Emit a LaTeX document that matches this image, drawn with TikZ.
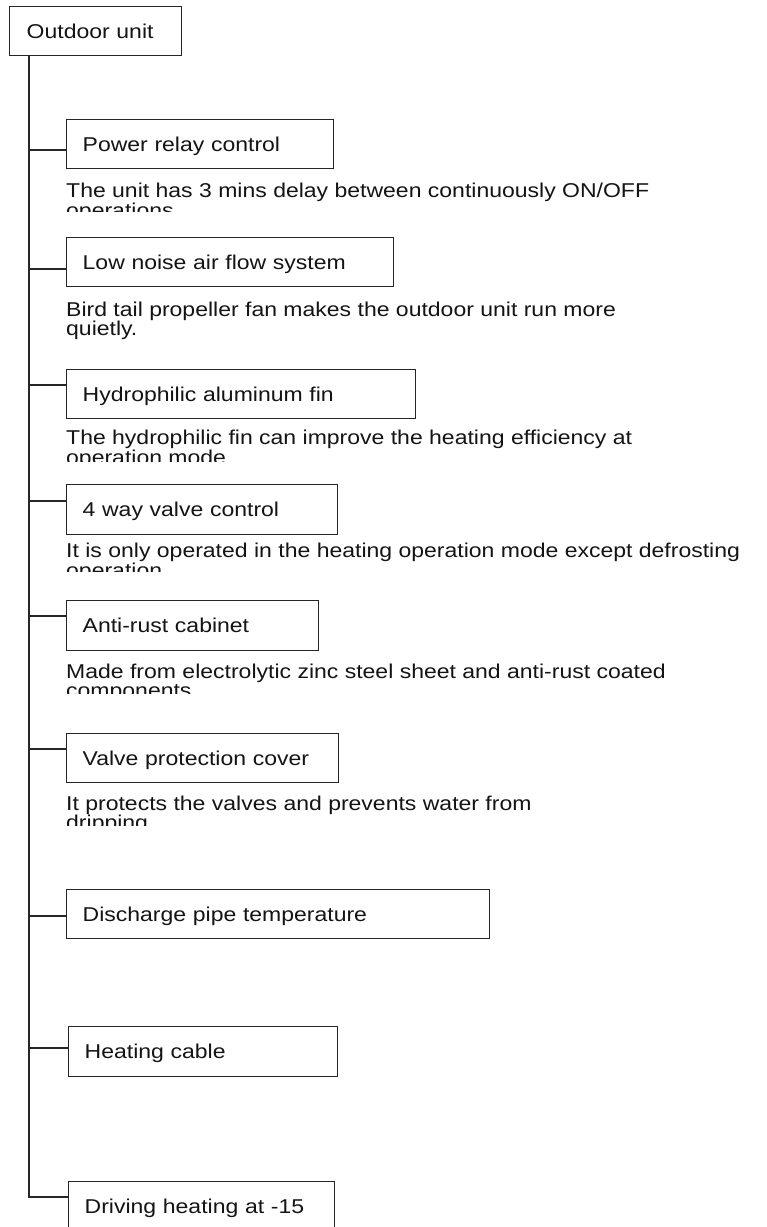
\documentclass[tikz,border=0pt]{standalone}
\usepackage{fontspec}
\setmainfont{Liberation Sans}[FakeStretch=1.15]
\definecolor{linec}{gray}{0.15}
\definecolor{txtc}{gray}{0.08}
\begin{document}
\begin{tikzpicture}[x=1pt,y=-1pt,
  box/.style={draw=linec, line width=1.4pt, rectangle, anchor=north west,
    inner xsep=16pt, inner ysep=0pt, minimum height=49pt,
    text height=14.3pt, text depth=0pt, align=left, text=txtc,
    font=\fontsize{20}{24}\selectfont},
  desc/.style={anchor=base west, inner sep=0pt, align=left, text=txtc,
    font=\fontsize{20}{#1}\selectfont},
  conn/.style={draw=linec, line width=1.3pt}]
\clip (0,0) rectangle (767,1227);
\fill[white] (0,0) rectangle (767,1227);

% root
\node[box, inner xsep=17pt, text width=138pt] (root) at (9,6) {Outdoor unit};

% feature boxes
\node[box, text width=235pt] (p1) at (66,119) {Power relay control};
\node[box, text width=295pt] (p2) at (66,237) {Low noise air flow system};
\node[box, text width=317pt] (p3) at (66,369) {Hydrophilic aluminum fin};
\node[box, text width=239pt, minimum height=50pt] (p4) at (66,484) {4 way valve control};
\node[box, text width=220pt, minimum height=50pt] (p5) at (66,600) {Anti-rust cabinet};
\node[box, text width=240pt] (p6) at (66,733) {Valve protection cover};
\node[box, text width=391pt] (p7) at (66,889) {Discharge pipe temperature};
\node[box, text width=237pt, minimum height=50pt] (p8) at (68,1026) {Heating cable};
\node[box, text width=234pt] (p9) at (68,1181) {Driving heating at -15};

% descriptions (second lines cut off as in the reference; anchor = last baseline)
\begin{scope}
  \clip (55,175) rectangle (767,211);
  \node[desc=20.5pt] (d1) at (66,217.5) {The unit has 3 mins delay between continuously ON/OFF\\operations};
\end{scope}
\node[desc=19pt] (d2) at (66,335) {Bird tail propeller fan makes the outdoor unit run more\\quietly.};
\begin{scope}
  \clip (55,425) rectangle (767,461);
  \node[desc=17pt] (d3) at (66,464) {The hydrophilic fin can improve the heating efficiency at\\operation mode};
\end{scope}
\begin{scope}
  \clip (55,540) rectangle (767,571);
  \node[desc=15.5pt] (d4) at (66,577.5) {It is only operated in the heating operation mode except defrosting\\operation};
\end{scope}
\begin{scope}
  \clip (55,655) rectangle (767,693);
  \node[desc=19pt] (d5) at (66,697) {Made from electrolytic zinc steel sheet and anti-rust coated\\components};
\end{scope}
\begin{scope}
  \clip (55,790) rectangle (767,825);
  \node[desc=19.5pt] (d6) at (66,829.5) {It protects the valves and prevents water from\\dripping};
\end{scope}

% connectors
\coordinate (tend) at (29,1197);
\draw[conn] (root.south -| tend) -- (tend) -- (tend -| p9.west);
\coordinate (b1) at (29,150);
\coordinate (b2) at (29,269);
\coordinate (b3) at (29,385);
\coordinate (b4) at (29,501);
\coordinate (b5) at (29,616);
\coordinate (b6) at (29,749);
\coordinate (b7) at (29,916);
\coordinate (b8) at (29,1048);
\draw[conn] (b1) -- (b1 -| p1.west);
\draw[conn] (b2) -- (b2 -| p2.west);
\draw[conn] (b3) -- (b3 -| p3.west);
\draw[conn] (b4) -- (b4 -| p4.west);
\draw[conn] (b5) -- (b5 -| p5.west);
\draw[conn] (b6) -- (b6 -| p6.west);
\draw[conn] (b7) -- (b7 -| p7.west);
\draw[conn] (b8) -- (b8 -| p8.west);
\end{tikzpicture}
\end{document}
